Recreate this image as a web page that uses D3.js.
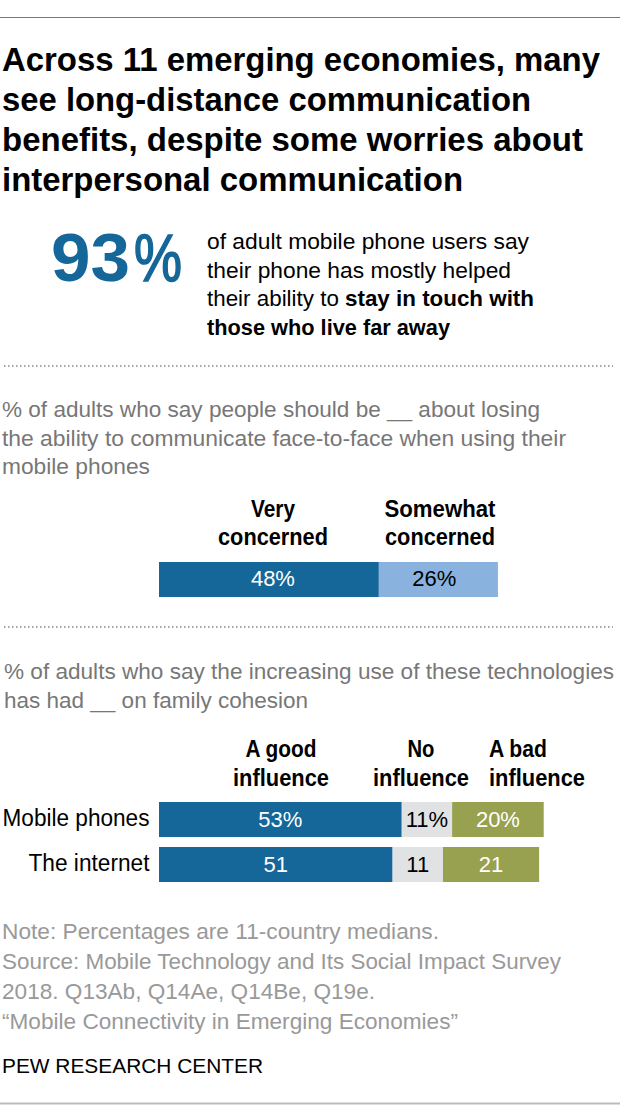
<!DOCTYPE html>
<html><head><meta charset="utf-8">
<script src="https://cdnjs.cloudflare.com/ajax/libs/d3/7.8.5/d3.min.js"></script>
<style>html,body{margin:0;padding:0;background:#fff}svg{display:block}text{font-family:"Liberation Sans Narrow","Liberation Sans",sans-serif}</style>
</head><body><svg id="c" width="620" height="1114"></svg>
<script>
const titleLines=["Across 11 emerging economies, many","see long-distance communication","benefits, despite some worries about","interpersonal communication"];
const calloutNumber="93";
const calloutSign="%";
const calloutLines=[[["of adult mobile phone users say",400]],[["their phone has mostly helped",400]],[["their ability to ",400],["stay in touch with",700]],[["those who live far away",700]]];
const concernIntro=["% of adults who say people should be __ about losing","the ability to communicate face-to-face when using their","mobile phones"];
const familyIntro=["% of adults who say the increasing use of these technologies","has had __ on family cohesion"];
const concernHeads=[["Very","concerned"],["Somewhat","concerned"]];
const concernValues=[48,26];
const concernLabels=["48%","26%"];
const techRows=["Mobile phones","The internet"];
const techHeads=[["A good","influence"],["No","influence"],["A bad","influence"]];
const goodValues=[53,51];
const noneValues=[11,11];
const badValues=[20,21];
const techLabels=[["53%","11%","20%"],["51","11","21"]];
const noteLines=["Note: Percentages are 11-country medians.","Source: Mobile Technology and Its Social Impact Survey","2018. Q13Ab, Q14Ae, Q14Be, Q19e.","\u201cMobile Connectivity in Emerging Economies\u201d"];
const credit="PEW RESEARCH CENTER";

const svg=d3.select("#c");
const x=d3.scaleLinear().domain([0,100]).range([159,617]);
const BLUE="#156799",LIGHT="#89b2de",GREY="#e1e2e4",OLIVE="#98a14f";

function line(t,xp,y,size,fill,weight,len,anchor){
  const n=svg.append("text").attr("x",xp).attr("y",y).attr("font-size",size).attr("fill",fill)
    .attr("font-weight",weight||400).attr("text-anchor",anchor||"start").text(t);
  if(len) n.attr("textLength",len).attr("lengthAdjust","spacingAndGlyphs");
  return n;
}
function rule(y,color,w,dash){
  const l=svg.append("line").attr("x1",dash?4:0).attr("x2",dash?613:620).attr("y1",y).attr("y2",y).attr("stroke",color).attr("stroke-width",w);
  if(dash) l.attr("stroke-dasharray",dash);
}
rule(17.5,"#777",1);
rule(1103.5,"#bbb",2);
rule(366,"#888",1.5,"1.5 2.5");
rule(627,"#888",1.5,"1.5 2.5");

const titleW=[598,529,581,461];
titleLines.forEach((t,i)=>line(t,2,71+i*40,33,"#000",700,titleW[i]));
line(calloutNumber,51,281,69,BLUE,700,79);
line(calloutSign,134,281,67,BLUE,400,48).attr("stroke",BLUE).attr("stroke-width",1.6);

const calloutW=[322,304,327,243];
calloutLines.forEach((segs,i)=>{
  const n=svg.append("text").attr("x",207).attr("y",249+i*28.7).attr("font-size",22.5).attr("fill","#000")
    .attr("textLength",calloutW[i]).attr("lengthAdjust","spacingAndGlyphs");
  segs.forEach(s=>n.append("tspan").attr("font-weight",s[1]).text(s[0]));
});

const introW=[538,564,148];
concernIntro.forEach((t,i)=>line(t,2,417+i*28.6,22,"#777",400,introW[i]));
const famW=[610,304];
familyIntro.forEach((t,i)=>line(t,4,679+i*29,22,"#777",400,famW[i]));

// concern bar
let acc=0;
const concernY=d3.scaleBand().domain(["all"]).range([562,597]);
const concernHeadX=[273,440];
const concernHeadW=[[44,110],[111,110]];
concernValues.forEach((v,i)=>{
  svg.append("rect").attr("x",x(acc)).attr("width",x(acc+v)-x(acc)).attr("y",concernY("all")).attr("height",concernY.bandwidth()).attr("fill",i?LIGHT:BLUE);
  const off=i?-4:4;
  line(concernLabels[i],(x(acc)+x(acc+v))/2+off,586,22,i?"#000":"#fff",400,null,"middle");
  line(concernHeads[i][0],concernHeadX[i],517,23,"#000",700,concernHeadW[i][0],"middle");
  line(concernHeads[i][1],concernHeadX[i],545,23,"#000",700,concernHeadW[i][1],"middle");
  acc+=v;
});

// tech bars
const techHeadX=[281,421,489];
const techHeadW=[[71,96],[27,96],[58,96]];
const techAnchor=["middle","middle","start"];
techHeads.forEach((h,i)=>{
  line(h[0],techHeadX[i],757,23,"#000",700,techHeadW[i][0],techAnchor[i]);
  line(h[1],techHeadX[i],786,23,"#000",700,techHeadW[i][1],techAnchor[i]);
});
const y=d3.scaleBand().domain(techRows).range([802,882]).paddingInner(10/45);
const techColors=[BLUE,GREY,OLIVE],techText=["#fff","#000","#fff"];
const rowW=[147,121];
techRows.forEach((r,ri)=>{
  const vals=[goodValues[ri],noneValues[ri],badValues[ri]];
  let a=0;
  vals.forEach((v,i)=>{
    svg.append("rect").attr("x",x(a)).attr("width",x(a+v)-x(a)).attr("y",y(r)).attr("height",y.bandwidth()).attr("fill",techColors[i]);
    line(techLabels[ri][i],(x(a)+x(a+v))/2,y(r)+25,22,techText[i],400,null,"middle");
    a+=v;
  });
  line(r,149.5,y(r)+24,23,"#000",400,rowW[ri],"end");
});

const noteW=[437,559,373,456];
noteLines.forEach((t,i)=>line(t,2,939+i*30,21.5,"#999",400,noteW[i]));
line(credit,2,1073,21,"#000",400,261);
</script></body></html>
